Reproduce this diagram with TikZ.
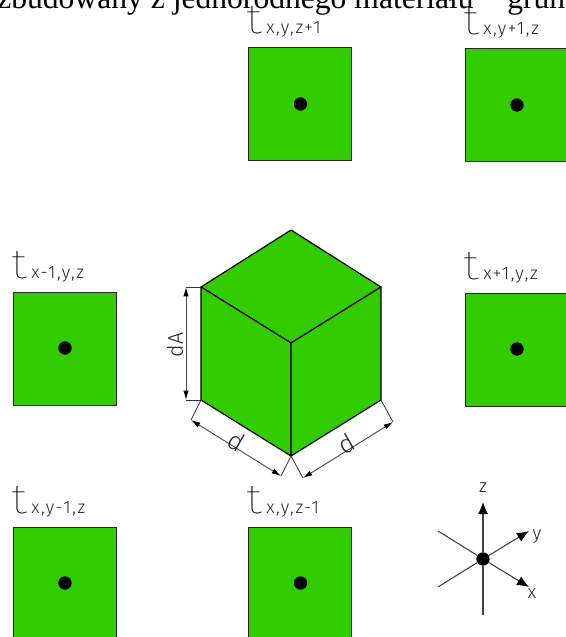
\documentclass[tikz,border=0pt]{standalone}
\usepackage{fontspec}
\setmainfont{Liberation Serif}
\newfontfamily\lab{Fira Sans Light}[LetterSpace=9]
\newfontfamily\dimfont{Fira Sans Light}
\newfontfamily\thinfont{Fira Sans Thin}
\usetikzlibrary{arrows.meta}
\definecolor{cubegreen}{RGB}{51,204,0}
\tikzset{
  face/.style={fill=cubegreen,draw=black,line width=0.9pt,line join=round},
  cell/.style={fill=cubegreen,draw=black!85,line width=0.6pt,minimum width=77.5pt,minimum height=84.75pt,inner sep=0pt,anchor=north west},
  dot/.style={circle,fill=black,inner sep=0pt,minimum size=10pt},
  heading/.style={font=\fontsize{23.7}{24}\selectfont,anchor=base west,inner sep=0pt},
  cad/.style={font=\lab\fontsize{13.5}{14}\selectfont,text=black!85,inner sep=0pt,anchor=base west},
  sym/.style={font=\thinfont\fontsize{26}{26}\selectfont,text=black,inner sep=0pt,anchor=base west},
  dimtext/.style={font=\dimfont\fontsize{16}{16}\selectfont,text=black!85,inner sep=0pt},
  bigd/.style={font=\dimfont\fontsize{19}{19}\selectfont,text=black!85,inner sep=0pt},
  axislabel/.style={font=\dimfont\fontsize{14}{14}\selectfont,text=black!85,inner sep=0pt},
  dim/.style={draw=black!80,line width=0.6pt},
  dimarrow/.style={draw=black!70,line width=0.7pt,{Latex[length=7pt,width=4pt,black]}-{Latex[length=7pt,width=4pt,black]}},
  axis/.style={draw=black!75,line width=0.8pt},
  axisarrow/.style={axis,-{Latex[length=9pt,width=7.5pt,black]}}
}
\newcommand{\tsym}{\scalebox{1.4}[1.2]{t}}
\begin{document}
\begin{tikzpicture}[x=0.75pt,y=-0.75pt]
\useasboundingbox (0,0) rectangle (566,637);
\clip (0,0) rectangle (566,637);
% heading
\node[heading] (head1) at (-3,8) {zbudowany z jednorodnego materiału};
\node[heading] (head2) at (507,8) {grun};
% neighbour cells
\node[cell] (c1) at (248,47) {};
\node[cell] (c2) at (465,48) {};
\node[cell] (c3) at (13,292) {};
\node[cell] (c4) at (465,293) {};
\node[cell] (c5) at (13,527) {};
\node[cell] (c6) at (248,527) {};
\node[dot] (d1) at (300.5,104) {};
\node[dot] (d2) at (517,105) {};
\node[dot] (d3) at (65,348) {};
\node[dot] (d4) at (517,349) {};
\node[dot] (d5) at (65,583) {};
\node[dot] (d6) at (300.5,583) {};
% labels
\node[sym] (s1) at (246,33) {\tsym}; \node[cad] (l1) at (266,33) {x,y,z+1};
\node[sym] (s2) at (463,34) {\tsym}; \node[cad] (l2) at (483,34) {x,y+1,z};
\node[sym] (s3) at (11,278) {\tsym}; \node[cad] (l3) at (31,278) {x-1,y,z};
\node[sym] (s4) at (463,279) {\tsym}; \node[cad] (l4) at (483,279) {x+1,y,z};
\node[sym] (s5) at (11,513) {\tsym}; \node[cad] (l5) at (31,513) {x,y-1,z};
\node[sym] (s6) at (246,513) {\tsym}; \node[cad] (l6) at (266,513) {x,y,z-1};
% cube
\coordinate (top) at (291,230);
\coordinate (ul) at (201,287);
\coordinate (ur) at (381,287);
\coordinate (mid) at (291,343);
\coordinate (ll) at (201,400);
\coordinate (lr) at (381,400);
\coordinate (bot) at (291,456);
\path[face] (top) -- (ur) -- (mid) -- (ul) -- cycle;
\path[face] (ul) -- (mid) -- (bot) -- (ll) -- cycle;
\path[face] (mid) -- (ur) -- (lr) -- (bot) -- cycle;
% dimensions
\coordinate (a1) at (186,287);
\coordinate (a2) at (186,400);
\draw[dim] (ul) -- (a1);
\draw[dim] (ll) -- (a2);
\draw[dimarrow] (a1) -- (a2);
\node[dimtext,rotate=90] (dA) at (175,345) {dA};
\coordinate (b1) at (191,420);
\coordinate (b2) at (281,476);
\draw[dim] (ll) -- (b1);
\draw[dim] (bot) -- (b2);
\draw[dimarrow] (b1) -- (b2);
\node[bigd,rotate=-30] (dl) at (237,441) {d};
\coordinate (e1) at (303,478);
\coordinate (e2) at (393,422);
\draw[dim] (bot) -- (e1);
\draw[dim] (lr) -- (e2);
\draw[dimarrow] (e1) -- (e2);
\node[bigd,rotate=30] (dr) at (346,444) {d};
% axes
\node[dot,minimum size=10pt] (o) at (483,559) {};
\coordinate (zt) at (483,502);
\coordinate (zb) at (483,615);
\coordinate (yt) at (529,531);
\coordinate (xt) at (529,587);
\coordinate (w1) at (438,531);
\coordinate (w2) at (438,587);
\draw[axisarrow] (o) -- (zt);
\draw[axisarrow] (o) -- (yt);
\draw[axisarrow] (o) -- (xt);
\draw[axis] (o) -- (zb);
\draw[axis] (o) -- (w1);
\draw[axis] (o) -- (w2);
\node[axislabel] (z) at (483,488) {z};
\node[axislabel] (y) at (537,537) {y};
\node[axislabel] (x) at (532,594) {x};
\end{tikzpicture}
\end{document}
